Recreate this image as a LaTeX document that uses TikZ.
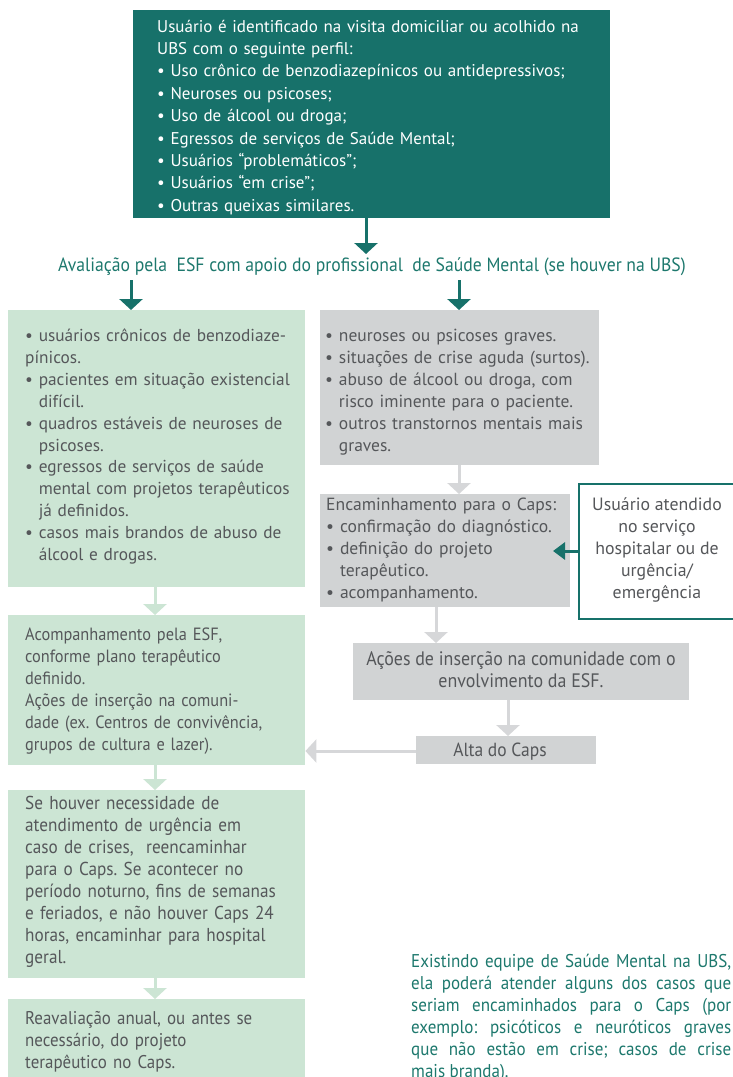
\documentclass[tikz,border=0pt]{standalone}
\usepackage{fontspec}
\setmainfont{PT Sans}
\newfontfamily\condf[FakeStretch=0.92]{PT Sans}
\usetikzlibrary{arrows.meta}
\definecolor{tealbox}{HTML}{17716A}
\definecolor{lgreen}{HTML}{CCE5D4}
\definecolor{lgray}{HTML}{D1D3D4}
\definecolor{txtgray}{HTML}{55575A}
\definecolor{arrgray}{HTML}{D6D7D9}
\definecolor{tealtxt}{HTML}{1D786D}
\newcommand\ind{\hphantom{• }}
\tikzset{
  gbox/.style={fill=lgreen, draw=none, inner sep=0, anchor=north west},
  graybox/.style={fill=lgray, draw=none, inner sep=0, anchor=north west},
  txt/.style={inner sep=0, anchor=north west, align=left, text=txtgray},
  darr/.style={draw=tealbox, line width=3pt, -{Triangle[width=23pt,length=11pt]}},
  larr/.style={draw=arrgray, line width=3pt, -{Triangle[width=23pt,length=11pt]}},
  garr/.style={draw=lgreen, line width=3pt, -{Triangle[width=23pt,length=11pt]}},
}
\begin{document}
\frenchspacing
\begin{tikzpicture}[x=1pt,y=-1pt]
\useasboundingbox (0,0) rectangle (732,1077);
% top box
\node[fill=tealbox, inner sep=0, anchor=north west, minimum width=477pt, minimum height=208pt] (top) at (133,10) {};
\node[txt, text=white, text width=450pt, font=\fontsize{17}{22.4}\selectfont] (topt) at (157,16.3) {\strut Usuário é identificado na visita domiciliar ou acolhido na\\
UBS com o seguinte perfil:\\
• Uso crônico de benzodiazepínicos ou antidepressivos;\\
• Neuroses ou psicoses;\\
• Uso de álcool ou droga;\\
• Egressos de serviços de Saúde Mental;\\
• Usuários “problemáticos”;\\
• Usuários “em crise”;\\
• Outras queixas similares.};
% evaluation line
\node[inner sep=0, anchor=base, text=tealtxt, font=\condf\fontsize{19.2}{22}\selectfont] (aval) at (372,271) {Avaliação pela\ \ ESF com apoio do profissional\ \ de Saúde Mental (se houver na UBS)};
\coordinate (avalL) at (131,280);
\coordinate (avalR) at (459,280);
% green 1
\node[gbox, minimum width=297pt, minimum height=277pt] (g1) at (8,310) {};
\node[txt, text width=285pt, font=\fontsize{17.3}{21.9}\selectfont] (g1t) at (25,326) {\strut • usuários crônicos de benzodiaze-\\
pínicos.\\
• pacientes em situação existencial\\
\ind difícil.\\
• quadros estáveis de neuroses de\\
\ind psicoses.\\
• egressos de serviços de saúde\\
\ind mental com projetos terapêuticos\\
\ind já definidos.\\
• casos mais brandos de abuso de\\
\ind álcool e drogas.};
% gray 1
\node[graybox, minimum width=279pt, minimum height=155pt] (c1) at (320,310) {};
\node[txt, text width=275pt, font=\fontsize{17.5}{21.9}\selectfont] (c1t) at (325,326) {\strut • neuroses ou psicoses graves.\\
• situações de crise aguda (surtos).\\
• abuso de álcool ou droga, com\\
\ind risco iminente para o paciente.\\
• outros transtornos mentais mais\\
\ind graves.};
% encaminhamento
\node[graybox, minimum width=250pt, minimum height=113pt] (enc) at (320,494) {};
\node[txt, text width=245pt, font=\fontsize{17.6}{21.9}\selectfont] (enct) at (326,495) {\strut Encaminhamento para o Caps:\\
• confirmação do diagnóstico.\\
• definição do projeto\\
\ind terapêutico.\\
• acompanhamento.};
% usuario atendido
\node[draw=tealbox, line width=2.2pt, fill=white, inner sep=0, anchor=north west, minimum width=170pt, minimum height=135pt] (usu) at (578,483) {};
\node[inner sep=0, anchor=north, align=center, text=txtgray, font=\fontsize{17.8}{21.9}\selectfont] (usut) at (657,495) {\strut Usuário atendido\\ no serviço\\ hospitalar ou de\\ urgência/\\ emergência};
% acoes
\node[graybox, minimum width=336pt, minimum height=57pt] (aco) at (353,643) {};
\node[inner sep=0, anchor=north, align=center, text=txtgray, font=\condf\fontsize{19.5}{22}\selectfont] (acot) at (521,650) {\strut Ações de inserção na comunidade com o\\ envolvimento da ESF.};
% alta
\node[graybox, minimum width=180pt, minimum height=28pt] (alta) at (416,736) {};
\node[inner sep=0, anchor=base, text=txtgray, font=\condf\fontsize{19}{22}\selectfont] (altat) at (500,756) {Alta do Caps};
% green 2
\node[gbox, minimum width=297pt, minimum height=150pt] (g2) at (8,615) {};
\node[txt, text width=285pt, font=\condf\fontsize{17.75}{22}\selectfont] (g2t) at (25,625) {\strut Acompanhamento pela ESF,\\
conforme plano terapêutico\\
definido.\\
Ações de inserção na comuni-\\
dade (ex. Centros de convivência,\\
grupos de cultura e lazer).};
% green 3
\node[gbox, minimum width=297pt, minimum height=188pt] (g3) at (8,790) {};
\node[txt, text width=285pt, font=\condf\fontsize{18.7}{22}\selectfont] (g3t) at (25,794) {\strut Se houver necessidade de\\
atendimento de urgência em\\
caso de crises,\ \ reencaminhar\\
para o Caps. Se acontecer no\\
período noturno, fins de semanas\\
e feriados, e não houver Caps 24\\
horas, encaminhar para hospital\\
geral.};
% green 4
\node[gbox, minimum width=297pt, minimum height=90pt] (g4) at (8,999) {};
\node[txt, text width=285pt, font=\condf\fontsize{18.4}{22}\selectfont] (g4t) at (25,1009) {\strut Reavaliação anual, ou antes se\\
necessário, do projeto\\
terapêutico no Caps.};
% bottom right note
\node[inner sep=0, anchor=north west, text width=320pt, align=justify, text=tealtxt, font=\condf\fontsize{18.5}{22}\selectfont] (note) at (411,952) {\strut Existindo equipe de Saúde Mental na UBS,\linebreak
ela poderá atender alguns dos casos que\linebreak
seriam encaminhados para o Caps (por\linebreak
exemplo: psicóticos e neuróticos graves\linebreak
que não estão em crise; casos de crise\linebreak
mais branda).};
% arrows
\draw[darr] (top.south -| 366,0) -- (366,254);
\draw[darr] (avalL) -- (g1.north -| avalL);
\draw[darr] (avalR) -- (c1.north -| avalR);
\draw[larr] (c1.south -| 459,0) -- (enc.north -| 459,0);
\draw[larr] (enc.south -| 436,0) -- (aco.north -| 436,0);
\draw[larr] (aco.south -| 508,0) -- (alta.north -| 508,0);
\draw[larr] (alta.west |- 0,751) -- (g2.east |- 0,751);
\draw[garr] (g1.south -| 155,0) -- (g2.north -| 155,0);
\draw[garr] (g2.south -| 155,0) -- (g3.north -| 155,0);
\draw[garr] (g3.south -| 155,0) -- (g4.north -| 155,0);
\draw[draw=tealbox, line width=3pt, -{Triangle[width=17pt,length=12pt]}] (usu.west |- 0,551) -- (553,551);
\end{tikzpicture}
\end{document}
